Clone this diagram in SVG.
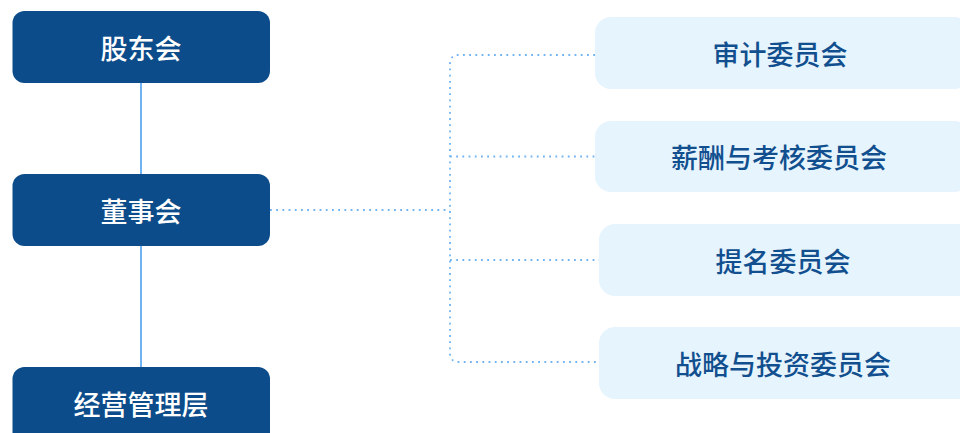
<svg xmlns="http://www.w3.org/2000/svg" width="960" height="433" viewBox="0 0 960 433">
<style>
.dark{fill:#0c4c8a;}
.light{fill:#e6f4fe;}
.tw{fill:#ffffff;font-family:"Noto Sans CJK SC","Noto Sans",sans-serif;font-size:27px;font-weight:500;text-anchor:middle;dominant-baseline:central;}
.tb{fill:#114f8e;font-family:"Noto Sans CJK SC","Noto Sans",sans-serif;font-size:27px;font-weight:500;text-anchor:middle;dominant-baseline:central;}
.solid{stroke:#6fb3f2;stroke-width:2;fill:none;}
.dot{stroke:#6fb3f2;stroke-width:1.8;fill:none;stroke-dasharray:1.8 4.4;}
</style>
<rect width="960" height="433" fill="#ffffff"/>
<g id="connectors">
<line class="solid" x1="141" y1="83" x2="141" y2="174"/>
<line class="solid" x1="141" y1="246" x2="141" y2="367"/>
<path class="dot" d="M270,210 H450"/>
<path class="dot" d="M595,55 H459 Q450,55 450,64 V353 Q450,362 459,362 H599"/>
<path class="dot" d="M450,156.5 H595"/>
<path class="dot" d="M450,260 H599"/>
</g>
<g id="gudonghui">
<rect class="dark" x="12.5" y="11" width="257.5" height="72" rx="12"/>
<text class="tw" x="141" y="47">股东会</text>
</g>
<g id="dongshihui">
<rect class="dark" x="12.5" y="174" width="257.5" height="72" rx="12"/>
<text class="tw" x="141" y="210">董事会</text>
</g>
<g id="jingyingguanliceng">
<rect class="dark" x="12.5" y="367" width="257.5" height="80" rx="12"/>
<text class="tw" x="141" y="403">经营管理层</text>
</g>
<g id="shenji">
<rect class="light" x="595" y="17" width="375" height="72" rx="16"/>
<text class="tb" x="780" y="53">审计委员会</text>
</g>
<g id="xinchou">
<rect class="light" x="595" y="121" width="375" height="71" rx="16"/>
<text class="tb" x="779" y="156.5">薪酬与考核委员会</text>
</g>
<g id="timing">
<rect class="light" x="599" y="224" width="375" height="72" rx="16"/>
<text class="tb" x="783" y="260">提名委员会</text>
</g>
<g id="zhanlue">
<rect class="light" x="599" y="327" width="375" height="72" rx="16"/>
<text class="tb" x="783" y="363">战略与投资委员会</text>
</g>
</svg>
